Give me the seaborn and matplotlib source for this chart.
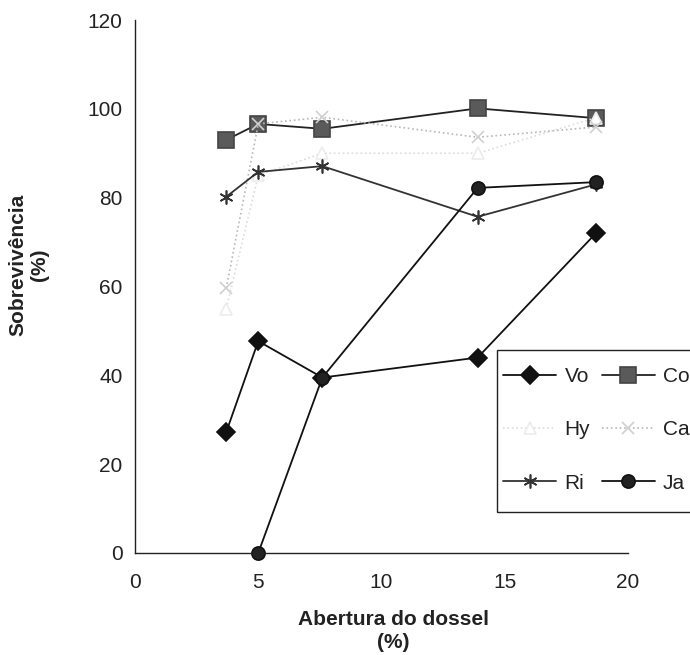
import numpy as np
import pandas as pd
import matplotlib
matplotlib.use("Agg")
import matplotlib.pyplot as plt
from matplotlib.patches import Rectangle
import seaborn as sns

# ---- data ----
abertura = [3.7, 5.0, 7.6, 13.9, 18.7]
vo = [27.2, 47.7, 39.5, 44.0, 72.0]
co = [93.0, 96.6, 95.5, 100.1, 97.9]
hy = [55.0, 85.0, 90.0, 90.0, 98.0]
ca = [59.6, 96.6, 98.1, 93.6, 95.9]
ri = [80.2, 85.8, 87.1, 75.7, 83.0]
ja_x = [5.0, 7.6, 13.9, 18.7]
ja = [0.0, 39.5, 82.2, 83.5]

series_names = ["Vo", "Hy", "Ri", "Co", "Ca", "Ja"]
x_ticks = [0, 5, 10, 15, 20]
y_ticks = [0, 20, 40, 60, 80, 100, 120]

sns.set_theme(style="white")
plt.rcParams["font.family"] = ["Liberation Sans", "DejaVu Sans"]

W, H = 690, 655
fig = plt.figure(figsize=(W / 100, H / 100), dpi=100)
left, right, bottom, top = 135, 628, 553, 20
ax = fig.add_axes([left / W, (H - bottom) / H, (right - left) / W, (bottom - top) / H])

styles = {
    "Vo": dict(x=abertura, y=vo, color="#111111", marker="D", ms=9, mfc="#111111", mec="#111111", ls="-", lw=1.3),
    "Co": dict(x=abertura, y=co, color="#222222", marker="s", ms=11, mfc="#5a5a5a", mec="#444444", ls="-", lw=1.3),
    "Hy": dict(x=abertura, y=hy, color="#dcdcdc", marker="^", ms=9, mfc="#ffffff", mec="#ececec", ls=":", lw=1.2),
    "Ca": dict(x=abertura, y=ca, color="#b8b8b8", marker="x", ms=9, mfc="#d0d0d0", mec="#d0d0d0", ls=":", lw=1.2),
    "Ri": dict(x=abertura, y=ri, color="#333333", marker=(6, 2, 0), ms=10, mfc="#333333", mec="#333333", ls="-", lw=1.3),
    "Ja": dict(x=ja_x, y=ja, color="#111111", marker="o", ms=9.5, mfc="#222222", mec="#111111", ls="-", lw=1.3),
}

draw_order = ["Co", "Hy", "Ca", "Ri", "Vo", "Ja"]
for name in draw_order:
    s = styles[name]
    sns.lineplot(x=s["x"], y=s["y"], ax=ax, color=s["color"], marker=s["marker"],
                 markersize=s["ms"], markerfacecolor=s["mfc"], markeredgecolor=s["mec"],
                 markeredgewidth=1.2, linestyle=s["ls"], linewidth=s["lw"],
                 sort=False, label=name, legend=False, clip_on=False)

ax.set_xlim(0, 20)
ax.set_ylim(0, 120)
ax.set_xticks(x_ticks)
ax.set_yticks(y_ticks)
ax.set_xticklabels([str(v) for v in x_ticks])
ax.set_yticklabels([str(v) for v in y_ticks])

for sp in ["top", "right"]:
    ax.spines[sp].set_visible(False)
for sp in ["left", "bottom"]:
    ax.spines[sp].set_color("#222222")
    ax.spines[sp].set_linewidth(1.0)

ax.tick_params(axis="y", direction="in", length=9, width=1.0, pad=9, labelsize=15, colors="#222222")
ax.tick_params(axis="x", direction="inout", length=9, width=1.0, pad=10, labelsize=15, colors="#222222")
ax.grid(False)

ax.set_xlabel("Abertura do dossel\n(%)", fontsize=15, fontweight="bold", color="#222222",
              va="center", linespacing=1.3)
ax.xaxis.set_label_coords((393 - left) / (right - left), (bottom - 631) / (bottom - top))
ax.set_ylabel("Sobrevivência\n(%)", fontsize=15, fontweight="bold", color="#222222",
              va="center", linespacing=1.2)
ax.yaxis.set_label_coords((29 - left) / (right - left), (bottom - 265) / (bottom - top))

# legend (column-wise: Vo, Hy, Ri | Co, Ca, Ja), frame drawn separately
handles_by_name = {ln.get_label(): ln for ln in ax.get_lines()}
handles = [handles_by_name[n] for n in series_names]
leg = fig.legend(handles, series_names, loc="upper left", ncol=2,
                 bbox_to_anchor=(503 / W, 1 - 367 / H), bbox_transform=fig.transFigure,
                 fontsize=15, frameon=False, borderpad=0, labelspacing=1.65,
                 handlelength=2.55, handletextpad=0.4, columnspacing=0.55,
                 borderaxespad=0)
for t in leg.get_texts():
    t.set_color("#222222")

frame = Rectangle((497 / W, 1 - 512 / H), 220 / W, (512 - 350) / H, transform=fig.transFigure,
                  fill=False, edgecolor="#222222", linewidth=1.0, clip_on=False)
fig.add_artist(frame)

fig.savefig("out.png", dpi=100)
